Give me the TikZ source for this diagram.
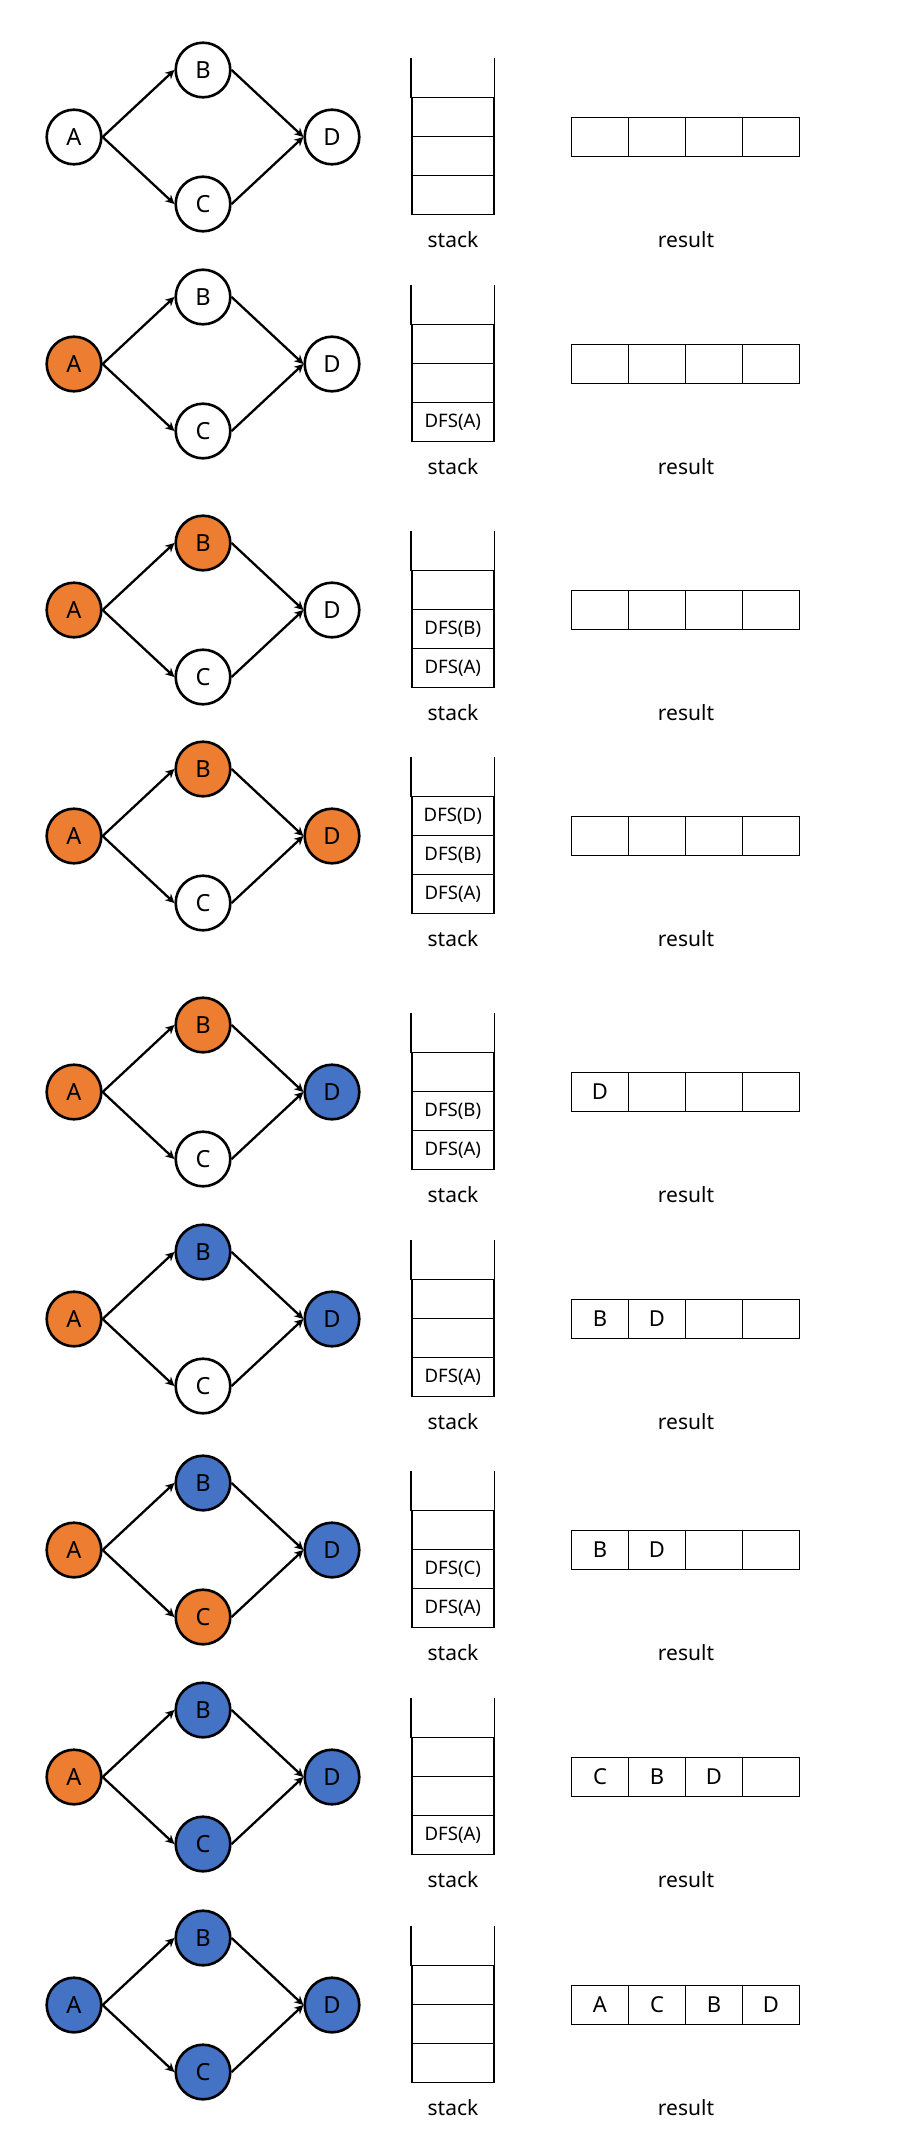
\documentclass[tikz,border=0pt]{standalone}
\usepackage{xcolor}
\usepackage{fontspec}
\setmainfont{Noto Sans}
\usepackage{tikz}
\usetikzlibrary{arrows.meta,positioning}

\definecolor{visiting}{HTML}{ED7D31}
\definecolor{finished}{HTML}{4472C4}

\begin{document}
\begin{tikzpicture}[
  x=0.5pt, y=-0.5pt,
  vtx/.style={draw, circle, line width=1.3pt, minimum size=27.3pt, inner sep=0pt,
              font=\fontsize{11.8}{13}\selectfont},
  cell/.style={draw, line width=0.75pt, minimum width=41pt, minimum height=19.5pt,
               inner sep=0pt, font=\fontsize{9.3}{11}\selectfont},
  slot/.style={cell, minimum width=28.5pt, font=\fontsize{11}{13}\selectfont},
  lbl/.style={anchor=base, font=\fontsize{10.5}{12}\selectfont},
  arr/.style={-{Stealth[length=4.5pt,width=4.5pt]}, line width=1.15pt},
  on grid
]

\useasboundingbox (0,0) rectangle (904,2146);

% one row per step: y / fill of A,B,C,D / stack from bottom / result
\foreach \yy/\ca/\cb/\cc/\cd/\sa/\sb/\sc/\ra/\rb/\rc/\rd [count=\i] in {
  137/white/white/white/white/{}/{}/{}/{}/{}/{}/{},
  364/visiting/white/white/white/{DFS(A)}/{}/{}/{}/{}/{}/{},
  610/visiting/visiting/white/white/{DFS(A)}/{DFS(B)}/{}/{}/{}/{}/{},
  836/visiting/visiting/white/visiting/{DFS(A)}/{DFS(B)}/{DFS(D)}/{}/{}/{}/{},
  1092/visiting/visiting/white/finished/{DFS(A)}/{DFS(B)}/{}/D/{}/{}/{},
  1319/visiting/finished/white/finished/{DFS(A)}/{}/{}/B/D/{}/{},
  1550/visiting/finished/visiting/finished/{DFS(A)}/{DFS(C)}/{}/B/D/{}/{},
  1777/visiting/finished/finished/finished/{DFS(A)}/{}/{}/C/B/D/{},
  2005/finished/finished/finished/finished/{}/{}/{}/A/C/B/D
}{
  % Graph
  \node[vtx, fill=\ca] (a\i) at (74,\yy) {A};
  \node[vtx, fill=\cb, above right=33.5pt and 64.5pt of a\i] (b\i) {B};
  \node[vtx, fill=\cc, below right=33.5pt and 64.5pt of a\i] (c\i) {C};
  \node[vtx, fill=\cd, right=129pt of a\i] (d\i) {D};

  \draw[arr] (a\i.east) -- (b\i.west);
  \draw[arr] (a\i.east) -- (c\i.west);
  \draw[arr] (b\i.east) -- (d\i.west);
  \draw[arr] (c\i.east) -- (d\i.west);

  % Stack - bottom up, open at the top
  \node[cell, below right=29pt and 60.4pt of d\i] (s1\i) {\sa};
  \node[cell, above=19.5pt of s1\i] (s2\i) {\sb};
  \node[cell, above=19.5pt of s2\i] (s3\i) {\sc};
  \node[cell, draw=none, above=19.5pt of s3\i] (s4\i) {};
  \draw[line width=0.75pt] (s4\i.north west) -- (s4\i.south west)
                           (s4\i.north east) -- (s4\i.south east);
  \node[lbl] (sl\i) at (453,\yy+110) {stack};

  % Result
  \node[slot, right=134pt of d\i] (r1\i) {\ra};
  \node[slot, right=28.5pt of r1\i] (r2\i) {\rb};
  \node[slot, right=28.5pt of r2\i] (r3\i) {\rc};
  \node[slot, right=28.5pt of r3\i] (r4\i) {\rd};
  \node[lbl] (rl\i) at (686,\yy+110) {result};
}

\end{tikzpicture}
\end{document}
